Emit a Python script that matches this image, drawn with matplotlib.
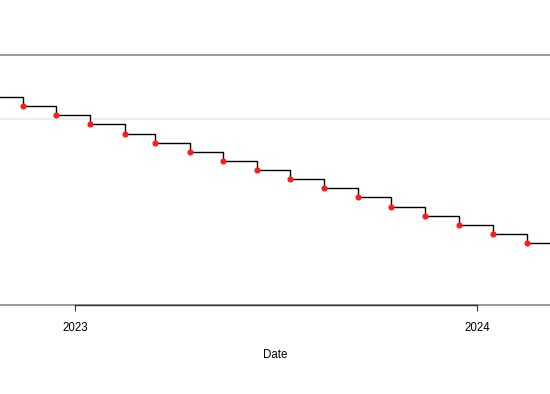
import datetime as dt
import numpy as np
import matplotlib
matplotlib.use("Agg")
import matplotlib.pyplot as plt
import matplotlib.dates as mdates

plt.rcParams['font.family'] = ['Liberation Sans', 'DejaVu Sans']

# monthly observations (15th of each month)
dates = [dt.date(2022, 10, 15), dt.date(2022, 11, 15), dt.date(2022, 12, 15),
         dt.date(2023, 1, 15), dt.date(2023, 2, 15), dt.date(2023, 3, 15),
         dt.date(2023, 4, 15), dt.date(2023, 5, 15), dt.date(2023, 6, 15),
         dt.date(2023, 7, 15), dt.date(2023, 8, 15), dt.date(2023, 9, 15),
         dt.date(2023, 10, 15), dt.date(2023, 11, 15), dt.date(2023, 12, 15),
         dt.date(2024, 1, 15), dt.date(2024, 2, 15), dt.date(2024, 3, 15)]
values = [22.76, 21.80, 20.79, 19.77, 18.74, 17.76, 16.77, 15.75, 14.77,
          13.75, 12.77, 11.78, 10.75, 9.77, 8.74, 7.77, 6.75, 5.75]
ref_level = 20.35
year_ticks = [dt.date(2023, 1, 1), dt.date(2024, 1, 1)]
year_labels = ["2023", "2024"]

W, H = 550, 394
fig = plt.figure(figsize=(W / 100, H / 100), dpi=100)

# plot region runs past both sides of the picture
px_left, px_right = -110, 660
px_top, px_bottom = 55, 305
ax = fig.add_axes([px_left / W, 1 - px_bottom / H,
                   (px_right - px_left) / W, (px_bottom - px_top) / H])

d0 = mdates.date2num(year_ticks[0])
d1 = mdates.date2num(year_ticks[1])
px0, px1 = 75, 477.3
scale = (px1 - px0) / (d1 - d0)
ax.set_xlim(d0 - (px0 - px_left) / scale, d0 + (px_right - px0) / scale)
ax.set_ylim(0, (px_bottom - px_top) / 9.14)

x = mdates.date2num(dates)
ax.axhline(ref_level, color='#ebebeb', lw=1.2, zorder=1)
ax.step(x, values, where='post', color='black', lw=1.0, zorder=2)
ax.plot(x, values, 'o', color='#ff1a1a', ms=4.4, mec='none', zorder=3)

for s in ax.spines.values():
    s.set_color('#8a8a8a')
    s.set_linewidth(1.2)

# axis line between the first and last tick
ax.plot([d0, d1], [0, 0], color='#333333', lw=1.0, clip_on=False, zorder=4)

ax.set_xticks(mdates.date2num(year_ticks))
ax.set_xticklabels(year_labels)
ax.tick_params(axis='x', length=4.5, width=0.8, color='#333333',
               labelsize=8.3, pad=7.5)
ax.set_yticks([])
ax.set_xlabel("Date", fontsize=8.3, labelpad=11)

fig.savefig("out.png", dpi=100)
